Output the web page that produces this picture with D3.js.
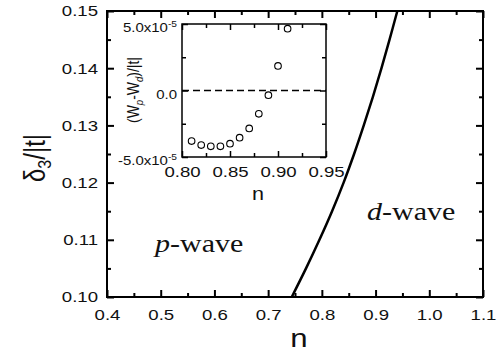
<!DOCTYPE html>
<html>
<head>
<meta charset="utf-8">
<script src="https://cdn.jsdelivr.net/npm/d3@7"></script>
<style>
  body { margin: 0; background: #fff; }
  svg { display: block; }
  text { font-family: "Liberation Sans", Arial, sans-serif; fill: #111; }
  .serif { font-family: "Liberation Serif", "Times New Roman", serif; }
</style>
</head>
<body>
<svg id="chart" width="503" height="354"></svg>
<script>
// phase boundary (main panel): n vs delta3/|t|
var boundaryDelta = [0.100, 0.105, 0.110, 0.115, 0.120, 0.125, 0.130, 0.135, 0.140, 0.145, 0.150];
var boundaryN     = [0.744, 0.7705, 0.7955, 0.819, 0.8405, 0.860, 0.878, 0.895, 0.911, 0.926, 0.9405];

// inset: energy difference (Wp - Wd)/|t|
var insetN    = [0.81, 0.82, 0.83, 0.84, 0.85, 0.86, 0.87, 0.88, 0.89, 0.90, 0.91];
var insetDiff = [-3.8e-5, -4.1e-5, -4.2e-5, -4.2e-5, -4.0e-5, -3.55e-5, -2.85e-5, -1.75e-5, -0.35e-5, 1.85e-5, 4.65e-5];

var mainXTicks = [0.4, 0.5, 0.6, 0.7, 0.8, 0.9, 1.0, 1.1];
var mainYTicks = [0.10, 0.11, 0.12, 0.13, 0.14, 0.15];
var insetXTicks = [0.80, 0.85, 0.90, 0.95];
var insetYTicks = [-5e-5, 0, 5e-5];

var SX = 1.2; // the figure is stretched horizontally

var svg = d3.select('#chart');

var x = d3.scaleLinear().domain([0.4, 1.1]).range([107, 483]);
var y = d3.scaleLinear().domain([0.10, 0.15]).range([297, 11]);

var ix = d3.scaleLinear().domain([0.80, 0.95]).range([182, 326]);
var iy = d3.scaleLinear().domain([-5e-5, 5e-5]).range([157, 24]);

function minors(ticks) {
    var out = [];
    for (var i = 0; i < ticks.length - 1; i++) out.push((ticks[i] + ticks[i + 1]) / 2);
    return out;
}

// stretch axis labels horizontally around their anchor
function stretch(sel) {
    sel.selectAll('text').each(function () {
        var t = d3.select(this);
        var xx = +t.attr('x') || 0;
        t.attr('x', xx / SX).attr('transform', 'scale(' + SX + ',1)');
    });
}

function frame(g, xs, ys, xt, yt, opts) {
    var x0 = xs.range()[0], x1 = xs.range()[1], y0 = ys.range()[0], y1 = ys.range()[1];
    var big = opts.big, small = opts.small;

    var bottom = g.append('g').attr('transform', 'translate(0,' + y0 + ')')
        .call(d3.axisBottom(xs).tickValues(xt).tickSize(-big).tickPadding(opts.xpad).tickFormat(opts.xfmt));
    bottom.selectAll('text').style('font-size', opts.xfont + 'px');
    stretch(bottom);
    g.append('g').attr('transform', 'translate(0,' + y0 + ')')
        .call(d3.axisBottom(xs).tickValues(minors(xt)).tickSize(-small).tickFormat(''));

    var left = g.append('g').attr('transform', 'translate(' + x0 + ',0)')
        .call(d3.axisLeft(ys).tickValues(yt).tickSize(-big).tickPadding(opts.ypad).tickFormat(opts.yfmt));
    left.selectAll('text').style('font-size', opts.yfont + 'px');
    stretch(left);
    g.append('g').attr('transform', 'translate(' + x0 + ',0)')
        .call(d3.axisLeft(ys).tickValues(minors(yt)).tickSize(-small).tickFormat(''));

    g.append('g').attr('transform', 'translate(0,' + y1 + ')')
        .call(d3.axisTop(xs).tickValues(xt).tickSize(-big).tickFormat(''));
    g.append('g').attr('transform', 'translate(0,' + y1 + ')')
        .call(d3.axisTop(xs).tickValues(minors(xt)).tickSize(-small).tickFormat(''));
    g.append('g').attr('transform', 'translate(' + x1 + ',0)')
        .call(d3.axisRight(ys).tickValues(yt).tickSize(-big).tickFormat(''));
    g.append('g').attr('transform', 'translate(' + x1 + ',0)')
        .call(d3.axisRight(ys).tickValues(minors(yt)).tickSize(-small).tickFormat(''));

    g.selectAll('.domain').remove();
    g.selectAll('.tick line').attr('stroke', '#000').attr('stroke-width', opts.sw);
    g.append('rect')
        .attr('x', x0).attr('y', y1).attr('width', x1 - x0).attr('height', y0 - y1)
        .attr('fill', 'none').attr('stroke', '#000').attr('stroke-width', opts.sw);
}

// main panel
var main = svg.append('g');
frame(main, x, y, mainXTicks, mainYTicks, {
    big: 7, small: 4, sw: 2, xpad: 12, ypad: 9, xfont: 15.5, yfont: 15.5,
    xfmt: d3.format('.1f'), yfmt: d3.format('.2f')
});

var line = d3.line().curve(d3.curveCatmullRom)
    .x(function (d, i) { return x(boundaryN[i]); })
    .y(function (d) { return y(d); });
main.append('path').datum(boundaryDelta)
    .attr('d', line).attr('fill', 'none').attr('stroke', '#000').attr('stroke-width', 2.5);

function label(g, px, py, size, rot) {
    return g.append('text')
        .attr('transform', 'translate(' + px + ',' + py + ') scale(' + SX + ',1)' + (rot ? ' rotate(-90)' : ''))
        .attr('text-anchor', 'middle').style('font-size', size + 'px');
}

// axis titles
label(main, 299, 347, 26).text('n');
var yl = label(main, 45, 158, 24, true);
yl.append('tspan').text('δ');
yl.append('tspan').attr('dy', 5).style('font-size', '16px').text('3');
yl.append('tspan').attr('dy', -5).text('/|t|');

// region labels
var pw = main.append('text').attr('class', 'serif')
    .attr('transform', 'translate(155,252) scale(1.2,1)').style('font-size', '25px');
pw.append('tspan').style('font-style', 'italic').text('p');
pw.append('tspan').text('-wave');
var dw = main.append('text').attr('class', 'serif')
    .attr('transform', 'translate(367,220) scale(1.2,1)').style('font-size', '25px');
dw.append('tspan').style('font-style', 'italic').text('d');
dw.append('tspan').text('-wave');

// inset
var inset = svg.append('g');
inset.append('rect').attr('x', 182).attr('y', 24).attr('width', 144).attr('height', 133).attr('fill', '#fff');
frame(inset, ix, iy, insetXTicks, insetYTicks, {
    big: 6, small: 4, sw: 1.5, xpad: 9, ypad: 5, xfont: 15.5, yfont: 12.5,
    xfmt: d3.format('.2f'), yfmt: function () { return ''; }
});

// y tick labels with superscript exponent
insetYTicks.forEach(function (v) {
    var t = inset.append('text')
        .attr('transform', 'translate(177,' + (iy(v) + 4) + ') scale(' + SX + ',1)')
        .attr('text-anchor', 'end').attr('dy', '0.35em').style('font-size', '12.5px');
    if (v === 0) { t.text('0.0'); return; }
    t.append('tspan').text(d3.format('.1f')(v / 1e-5).replace('\u2212', '-') + 'x10');
    t.append('tspan').attr('dy', -5).style('font-size', '8.5px').text('-5');
});

inset.append('line')
    .attr('x1', ix(0.80)).attr('x2', ix(0.95)).attr('y1', iy(0)).attr('y2', iy(0))
    .attr('stroke', '#000').attr('stroke-width', 1.5).attr('stroke-dasharray', '7,4');

inset.selectAll('circle.pt').data(insetN).enter().append('circle')
    .attr('class', 'pt')
    .attr('cx', function (d) { return ix(d); })
    .attr('cy', function (d, i) { return iy(insetDiff[i]); })
    .attr('r', 3.3).attr('fill', 'none').attr('stroke', '#000').attr('stroke-width', 1.1);

label(inset, 258, 200, 18).text('n');
var il = label(inset, 139, 90, 14, true);
il.append('tspan').text('(W');
il.append('tspan').attr('dy', 3).style('font-size', '9.5px').style('font-style', 'italic').text('p');
il.append('tspan').attr('dy', -3).text('-W');
il.append('tspan').attr('dy', 3).style('font-size', '9.5px').style('font-style', 'italic').text('d');
il.append('tspan').attr('dy', -3).text(')/|t|');
</script>
</body>
</html>
